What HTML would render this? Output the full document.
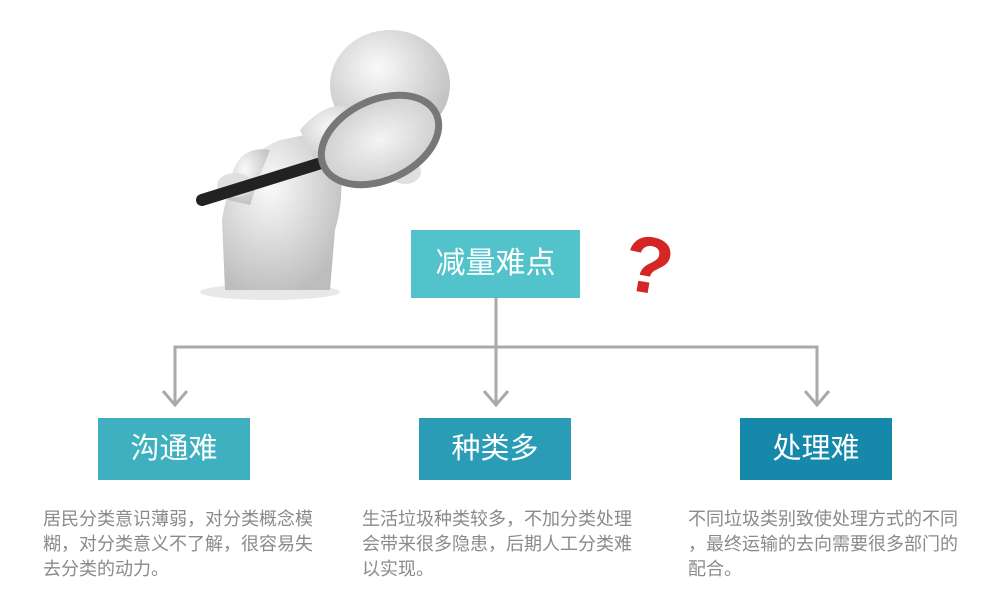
<!DOCTYPE html>
<html><head><meta charset="utf-8"><style>
body{margin:0;width:1000px;height:600px;background:#fff;position:relative;overflow:hidden;font-family:"Liberation Sans","Noto Sans CJK SC",sans-serif}
.b{position:absolute;color:#fff;text-align:center;font-size:29px}
.t{position:absolute;color:#8a8a8a;font-size:18px;line-height:25px;width:320px;white-space:nowrap}
</style></head><body>
<svg width="1000" height="600" style="position:absolute;left:0;top:0">
<defs>
<radialGradient id="g" cx="40%" cy="35%" r="70%"><stop offset="0" stop-color="#fafafa"/><stop offset="1" stop-color="#bdbdbd"/></radialGradient>
<radialGradient id="lens" cx="50%" cy="50%" r="50%"><stop offset="0" stop-color="#f4f4f4"/><stop offset="1" stop-color="#d0d0d0"/></radialGradient>
</defs>
<ellipse cx="270" cy="292" rx="70" ry="8" fill="#e8e8e8"/>
<path d="M225 290 L222 220 Q230 160 280 140 L330 130 Q350 180 335 230 L330 290 Z" fill="url(#g)"/>
<path d="M270 150 Q240 145 232 175 L228 200 L250 205 L260 175 Z" fill="url(#g)"/>
<ellipse cx="390" cy="85" rx="60" ry="55" fill="url(#g)"/>
<path d="M300 130 Q330 95 360 110 L380 160 L320 170 Z" fill="url(#g)"/>
<ellipse cx="235" cy="185" rx="18" ry="12" fill="#e0e0e0"/>
<ellipse cx="405" cy="172" rx="16" ry="12" fill="#e0e0e0"/>
<line x1="202" y1="200" x2="318" y2="164" stroke="#222" stroke-width="12" stroke-linecap="round"/>
<ellipse cx="380" cy="140" rx="62" ry="40" transform="rotate(-25 380 140)" fill="url(#lens)" stroke="#777" stroke-width="7"/>
<text x="625" y="293" font-family="Liberation Sans,sans-serif" font-weight="bold" font-size="80" fill="#d52626" transform="rotate(10 650 260)">?</text>
<g stroke="#aaa" stroke-width="3" fill="none">
<path d="M496 298 V347 M175 405 V347 H817 V405 M496 347 V405"/>
<path d="M163 391 L175 405 L187 391 M484 391 L496 405 L508 391 M805 391 L817 405 L829 391"/>
</g>
</svg>
<div class="b" style="left:411px;top:230px;width:169px;height:68px;line-height:68px;background:#53c3cb;font-size:30px">减量难点</div>
<div class="b" style="left:98px;top:418px;width:152px;height:62px;line-height:62px;background:#3fb0c0">沟通难</div>
<div class="b" style="left:419px;top:418px;width:152px;height:62px;line-height:62px;background:#2a9cb6">种类多</div>
<div class="b" style="left:740px;top:418px;width:152px;height:62px;line-height:62px;background:#1688a9">处理难</div>
<div class="t" style="left:43px;top:507px">居民分类意识薄弱，对分类概念模<br>糊，对分类意义不了解，很容易失<br>去分类的动力。</div>
<div class="t" style="left:362px;top:507px">生活垃圾种类较多，不加分类处理<br>会带来很多隐患，后期人工分类难<br>以实现。</div>
<div class="t" style="left:688px;top:507px">不同垃圾类别致使处理方式的不同<br>，最终运输的去向需要很多部门的<br>配合。</div>
</body></html>
